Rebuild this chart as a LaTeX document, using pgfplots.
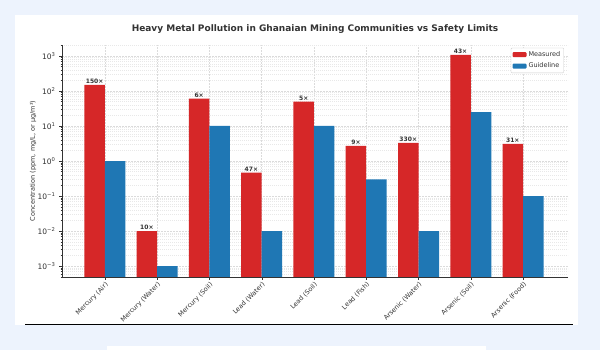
\documentclass[border=0pt]{standalone}
\usepackage{fontspec}
\setmainfont{DejaVu Sans}
\usepackage{pgfplots}
\pgfplotsset{compat=1.18}
\definecolor{bgc}{HTML}{EDF3FD}
\definecolor{mred}{HTML}{D62728}
\definecolor{mblue}{HTML}{1F77B4}
\definecolor{txt}{HTML}{333333}
\begin{document}
\begin{tikzpicture}[x=1pt,y=1pt]
\useasboundingbox (0,0) rectangle (600,350);
\fill[bgc] (0,0) rectangle (600,350);
\fill[white] (15,25) rectangle (578,335);
\draw[black, line width=1pt] (25,25) -- (573,25);
\fill[white] (107,0) rectangle (486,4);
\begin{axis}[
  at={(62pt,73pt)}, anchor=south west, scale only axis,
  width=506pt, height=232pt,
  ymode=log, log origin=infty,
  ymin=4.9e-4, ymax=2.05e3,
  xmin=-0.82, xmax=8.86,
  ybar=0pt, bar width=20.5pt,
  xtick={0,...,8},
  xticklabels={Mercury (Air),Mercury (Water),Mercury (Soil),Lead (Water),Lead (Soil),Lead (Fish),Arsenic (Water),Arsenic (Soil),Arsenic (Food)},
  xticklabel style={rotate=45, anchor=north east, inner sep=1pt, font=\fontsize{6.5}{7}\selectfont, text=txt},
  ytick={1e-3,1e-2,1e-1,1,10,100,1000},
  yticklabels={10\textsuperscript{−3},10\textsuperscript{−2},10\textsuperscript{−1},10\textsuperscript{0},10\textsuperscript{1},10\textsuperscript{2},10\textsuperscript{3}},
  minor ytick={5e-4,6e-4,7e-4,8e-4,9e-4,2e-3,3e-3,4e-3,5e-3,6e-3,7e-3,8e-3,9e-3,2e-2,3e-2,4e-2,5e-2,6e-2,7e-2,8e-2,9e-2,2e-1,3e-1,4e-1,5e-1,6e-1,7e-1,8e-1,9e-1,2,3,4,5,6,7,8,9,20,30,40,50,60,70,80,90,200,300,400,500,600,700,800,900,2000},
  yticklabel style={font=\fontsize{7.5}{8}\selectfont, text=txt},
  tick align=outside,
  major tick length=3pt, minor tick length=1.5pt,
  tick style={black!80},
  axis x line*=bottom, axis y line*=left,
  axis line style={black!80, line width=0.8pt, -},
  xmajorgrids, ymajorgrids, yminorgrids,
  major grid style={dash pattern=on 2pt off 1pt, gray!28, line width=0.4pt},
  minor grid style={dash pattern=on 1pt off 1pt, gray!18, line width=0.3pt},
  title={Heavy Metal Pollution in Ghanaian Mining Communities vs Safety Limits},
  title style={font=\bfseries\fontsize{9}{10}\selectfont, text=txt, at={(0.5,1)}, anchor=south, yshift=2pt},
  ylabel={Concentration (ppm, mg/L, or µg/m³)},
  ylabel style={font=\fontsize{6.5}{7}\selectfont, text=txt, at={(axis description cs:-0.057,0.5)}, anchor=center},
  legend style={at={(0.992,0.988)}, anchor=north east, font=\fontsize{6.5}{7.5}\selectfont, text=txt, draw=gray!40, rounded corners=1pt, inner sep=1.5pt, row sep=1pt},
  legend image code/.code={\fill[#1] (0pt,-2.5pt) rectangle (14pt,2.5pt);},
  legend cell align=left,
  nodes near coords style={font=\bfseries\fontsize{6}{7}\selectfont, text=txt, inner sep=1pt, anchor=south},
]
\addplot[fill=mred, draw=none, nodes near coords, point meta=explicit symbolic] coordinates {
  (0,150) [150×]
  (1,0.01) [10×]
  (2,60) [6×]
  (3,0.47) [47×]
  (4,50) [5×]
  (5,2.7) [9×]
  (6,3.3) [330×]
  (7,1075) [43×]
  (8,3.1) [31×]
};
\addlegendentry{Measured}
\addplot[fill=mblue, draw=none] coordinates {
  (0,1)
  (1,0.001)
  (2,10)
  (3,0.01)
  (4,10)
  (5,0.3)
  (6,0.01)
  (7,25)
  (8,0.1)
};
\addlegendentry{Guideline}
\end{axis}
\end{tikzpicture}
\end{document}
